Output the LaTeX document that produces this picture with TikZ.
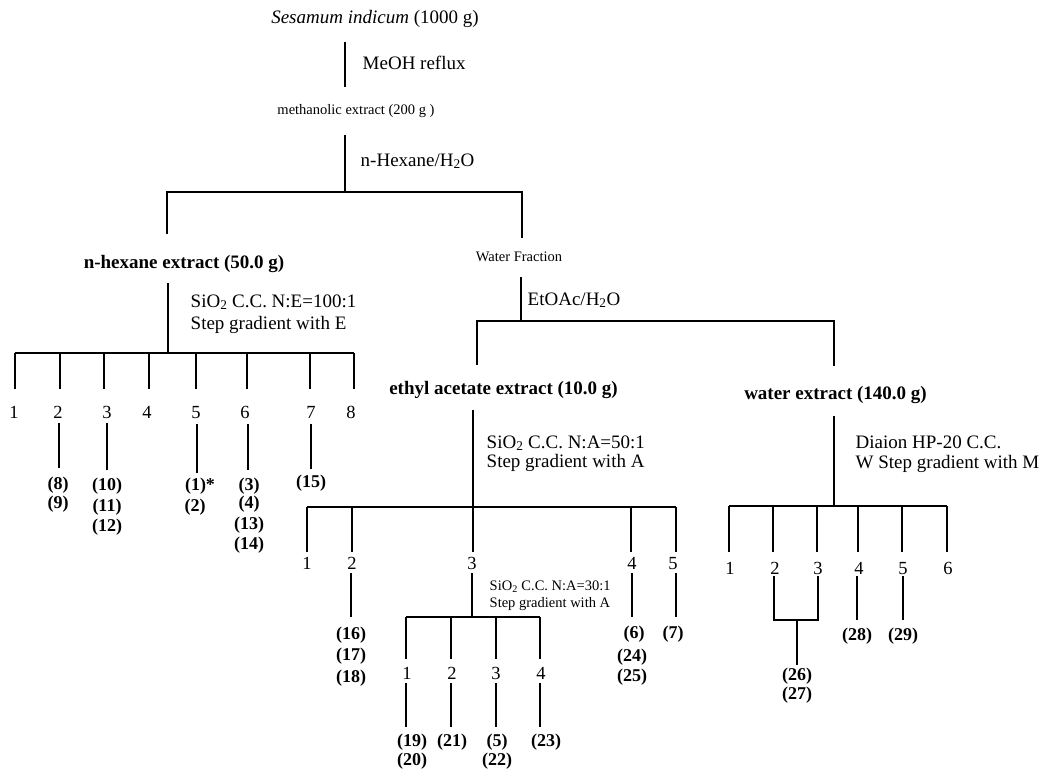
\documentclass[tikz,border=0pt]{standalone}
\usepackage{fontspec}
\setmainfont{Liberation Serif}
\begin{document}
\begin{tikzpicture}[x=1pt,y=-1pt,line width=1.4pt,
  main/.style={font=\fontsize{19}{22}\selectfont, inner sep=0},
  small/.style={font=\fontsize{14.5}{17}\selectfont, inner sep=0},
  bld/.style={font=\fontsize{19}{22}\selectfont\bfseries, inner sep=0},
  num/.style={font=\fontsize{18.5}{20}\selectfont, inner sep=0, anchor=base},
  cmp/.style={font=\fontsize{18}{20}\selectfont\bfseries, inner sep=0, anchor=base}]
\useasboundingbox (0,0) rectangle (1043,771);
% ---------- trunk ----------
\node[main, anchor=base] (ses) at (375,23) {\textit{Sesamum indicum} (1000 g)};
\coordinate (t1) at (345,42); \coordinate (t2) at (345,87);
\draw (t1) -- (t2);
\node[main, anchor=base west] (meoh) at (362,69) {MeOH reflux};
\node[small, anchor=base] (meth) at (356,114) {methanolic extract (200 g )};
\coordinate (t3) at (345,135); \coordinate (t4) at (345,192);
\draw (t3) -- (t4);
\node[main, anchor=base west] (hexw) at (360,166) {n-Hexane/H\textsubscript{2}O};
\coordinate (sL) at (167,192); \coordinate (sR) at (522,192);
\coordinate (sLd) at (167,234); \coordinate (sRd) at (522,238);
\draw (sLd) -- (sL) -- (sR) -- (sRd);
% ---------- n-hexane tree ----------
\node[bld, anchor=base] (hex) at (184,268) {n-hexane extract (50.0 g)};
\coordinate (h0) at (168,283); \coordinate (h1) at (168,353);
\draw (h0) -- (h1);
\node[main, anchor=base west] (hsa) at (190,307) {SiO\textsubscript{2} C.C. N:E=100:1};
\node[main, anchor=base west] (hsb) at (190,329) {Step gradient with E};
\coordinate (hbL) at (15,353); \coordinate (hbR) at (354,353);
\draw (hbL) -- (hbR);
\foreach \x/\lx [count=\i] in {15/14,60/58,104/107,149/147,196/196,247/245,310/311,354/351}{
  \coordinate (hb\i) at (\x,353); \coordinate (he\i) at (\x,389);
  \draw (hb\i) -- (he\i);
  \node[num] (hn\i) at (\lx,418) {\i};
}
\foreach \i/\x/\ya/\yb in {2/59/423/468,3/107/423/470,5/197/424/473,6/248/424/470,7/311/424/469}{
  \coordinate (hs\i) at (\x,\ya); \coordinate (ht\i) at (\x,\yb);
  \draw (hs\i) -- (ht\i);
}
\foreach \t/\x/\y in {8/58/489,9/58/508,10/107/490,11/107/511,12/107/531,2/195/511,3/249/490,4/249/508,13/249/529,14/249/549,15/311/487}
  \node[cmp] (c\t) at (\x,\y) {(\t)};
\node[cmp] (c1) at (200,490) {(1)*};
% ---------- water fraction ----------
\node[small, anchor=base] (wf) at (519,261) {Water Fraction};
\coordinate (w1) at (521,277); \coordinate (w2) at (521,321);
\draw (w1) -- (w2);
\node[main, anchor=base west] (eto) at (527,305) {EtOAc/H\textsubscript{2}O};
\coordinate (eL) at (477,321); \coordinate (eR) at (834,321);
\coordinate (eLd) at (477,365); \coordinate (eRd) at (834,366);
\draw (eLd) -- (eL) -- (eR) -- (eRd);
% ---------- ethyl acetate tree ----------
\node[bld, anchor=base] (eth) at (503.5,394) {ethyl acetate extract (10.0 g)};
\coordinate (m0) at (473,410); \coordinate (m1) at (473,507);
\draw (m0) -- (m1);
\node[main, anchor=base west] (msa) at (486,448) {SiO\textsubscript{2} C.C. N:A=50:1};
\node[main, anchor=base west] (msb) at (486,467) {Step gradient with A};
\coordinate (mbL) at (307,507); \coordinate (mbR) at (676,507);
\draw (mbL) -- (mbR);
\foreach \x/\lx [count=\i] in {307/307,352/352,473/472,631/632,676/673}{
  \coordinate (mb\i) at (\x,507); \coordinate (me\i) at (\x,552);
  \draw (mb\i) -- (me\i);
  \node[num] (mn\i) at (\lx,569) {\i};
}
\foreach \i/\x in {2/351,3/472,4/632,5/676}{
  \coordinate (ms\i) at (\x,573); \coordinate (mt\i) at (\x,617);
  \draw (ms\i) -- (mt\i);
}
\foreach \t/\x/\y in {16/351/639,17/351/660,18/351/682,6/634/638,24/632/661,25/632/681,7/673/638}
  \node[cmp] (c\t) at (\x,\y) {(\t)};
% sub column of fraction 3
\node[small, anchor=base west] (ssa) at (489,590) {SiO\textsubscript{2} C.C. N:A=30:1};
\node[small, anchor=base west] (ssb) at (489,607) {Step gradient with A};
\coordinate (sbL) at (406,617); \coordinate (sbR) at (540,617);
\draw (sbL) -- (sbR);
\foreach \x/\lx [count=\i] in {406/407,451/452,496/496,540/541}{
  \coordinate (sb\i) at (\x,617); \coordinate (se\i) at (\x,659);
  \draw (sb\i) -- (se\i);
  \node[num] (sn\i) at (\lx,679) {\i};
  \coordinate (ss\i) at (\x,683); \coordinate (st\i) at (\x,727);
  \draw (ss\i) -- (st\i);
}
\foreach \t/\x/\y in {19/412/746,20/412/765,21/452/746,5/497/746,22/497/765,23/546/746}
  \node[cmp] (c\t) at (\x,\y) {(\t)};
% ---------- water extract tree ----------
\node[bld, anchor=base] (wex) at (835.5,399) {water extract (140.0 g)};
\coordinate (r0) at (834,416); \coordinate (r1) at (834,506);
\draw (r0) -- (r1);
\node[main, anchor=base west] (rsa) at (855,448) {Diaion HP-20 C.C.};
\node[main, anchor=base west] (rsb) at (855,468) {W Step gradient with M};
\coordinate (rbL) at (729,506); \coordinate (rbR) at (947,506);
\draw (rbL) -- (rbR);
\foreach \x/\lx [count=\i] in {729/730,773/775,817/818,858/859,902/903,947/948}{
  \coordinate (rb\i) at (\x,506); \coordinate (re\i) at (\x,552);
  \draw (rb\i) -- (re\i);
  \node[num] (rn\i) at (\lx,574) {\i};
}
\coordinate (rs2) at (774,576); \coordinate (rt2) at (774,620);
\coordinate (rs3) at (818,576); \coordinate (rt3) at (818,620);
\draw (rs2) -- (rt2) -- (rt3) -- (rs3);
\coordinate (rj) at (797,620); \coordinate (rk) at (797,665);
\draw (rj) -- (rk);
\coordinate (rs4) at (857,576); \coordinate (rt4) at (857,620);
\draw (rs4) -- (rt4);
\coordinate (rs5) at (903,576); \coordinate (rt5) at (903,620);
\draw (rs5) -- (rt5);
\foreach \t/\x/\y in {26/797/680,27/797/699,28/857/640,29/903/640}
  \node[cmp] (c\t) at (\x,\y) {(\t)};
\end{tikzpicture}
\end{document}
